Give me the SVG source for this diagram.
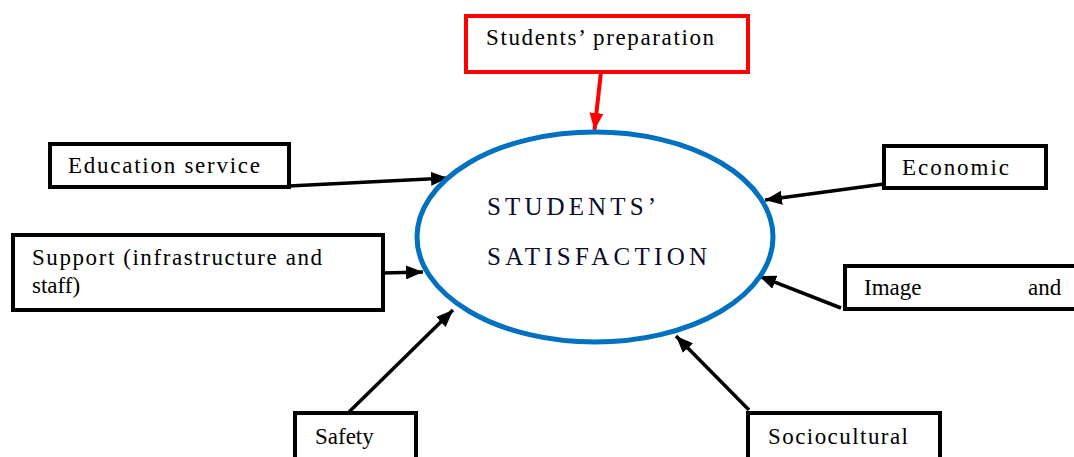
<svg xmlns="http://www.w3.org/2000/svg" width="1074" height="457" viewBox="0 0 1074 457">
<style>
.box{fill:#fff;stroke:#000;stroke-width:4}
.red{fill:#fff;stroke:#ff0000;stroke-width:4}
.t{font-family:'Liberation Serif','Times New Roman','DejaVu Serif',serif;font-size:23px;fill:#000}
.c{font-family:'Liberation Serif','Times New Roman','DejaVu Serif',serif;font-size:25px;fill:#0b0b2a}
.ln{stroke:#000;stroke-width:3.5;fill:none}
.lr{stroke:#ff0000;stroke-width:4;fill:none}
</style>
<defs>
<marker id="ah" markerUnits="userSpaceOnUse" markerWidth="18" markerHeight="14" viewBox="0 0 18 14" refX="17" refY="7" orient="auto">
<path d="M0,0 L17,7 L0,14 z" fill="#000"/>
</marker>
<marker id="ahr" markerUnits="userSpaceOnUse" markerWidth="18" markerHeight="14" viewBox="0 0 18 14" refX="17" refY="7" orient="auto">
<path d="M0,0 L17,7 L0,14 z" fill="#ff0000"/>
</marker>
</defs>
<rect width="1074" height="457" fill="#fff"/>
<g id="connectors">
<line class="lr" x1="601" y1="72" x2="594.5" y2="130" marker-end="url(#ahr)"/>
<line class="ln" x1="289" y1="186" x2="448" y2="178" marker-end="url(#ah)"/>
<line class="ln" x1="383" y1="273" x2="423" y2="272" marker-end="url(#ah)"/>
<line class="ln" x1="884" y1="184" x2="765" y2="200" marker-end="url(#ah)"/>
<line class="ln" x1="841" y1="308" x2="759" y2="276" marker-end="url(#ah)"/>
<line class="ln" x1="349" y1="412" x2="453" y2="310" marker-end="url(#ah)"/>
<line class="ln" x1="749" y1="410" x2="676" y2="336" marker-end="url(#ah)"/>
</g>
<g id="satisfaction">
<ellipse cx="595" cy="237" rx="178" ry="105" fill="none" stroke="#0070c0" stroke-width="5"/>
<text class="c" x="487" y="215" textLength="169" lengthAdjust="spacing">STUDENTS’</text>
<text class="c" x="487" y="265" textLength="220" lengthAdjust="spacing">SATISFACTION</text>
</g>
<g id="preparation">
<rect class="red" x="466" y="16" width="282" height="56"/>
<text class="t" x="486" y="45" textLength="228" lengthAdjust="spacing">Students’ preparation</text>
</g>
<g id="education">
<rect class="box" x="50" y="144" width="239" height="43"/>
<text class="t" x="68" y="173" textLength="192" lengthAdjust="spacing">Education service</text>
</g>
<g id="support">
<rect class="box" x="13" y="235" width="370" height="75"/>
<text class="t" x="32" y="265" textLength="290" lengthAdjust="spacing">Support (infrastructure and</text>
<text class="t" x="32" y="293">staff)</text>
</g>
<g id="economic">
<rect class="box" x="884" y="146" width="162" height="42"/>
<text class="t" x="902" y="175" textLength="107" lengthAdjust="spacing">Economic</text>
</g>
<g id="image">
<rect class="box" x="845" y="266" width="240" height="43"/>
<text class="t" x="864" y="295">Image</text>
<text class="t" x="1028" y="295">and</text>
</g>
<g id="safety">
<rect class="box" x="295" y="413" width="121" height="60"/>
<text class="t" x="315" y="444">Safety</text>
</g>
<g id="sociocultural">
<rect class="box" x="748" y="413" width="192" height="60"/>
<text class="t" x="768" y="444" textLength="140" lengthAdjust="spacing">Sociocultural</text>
</g>
</svg>
